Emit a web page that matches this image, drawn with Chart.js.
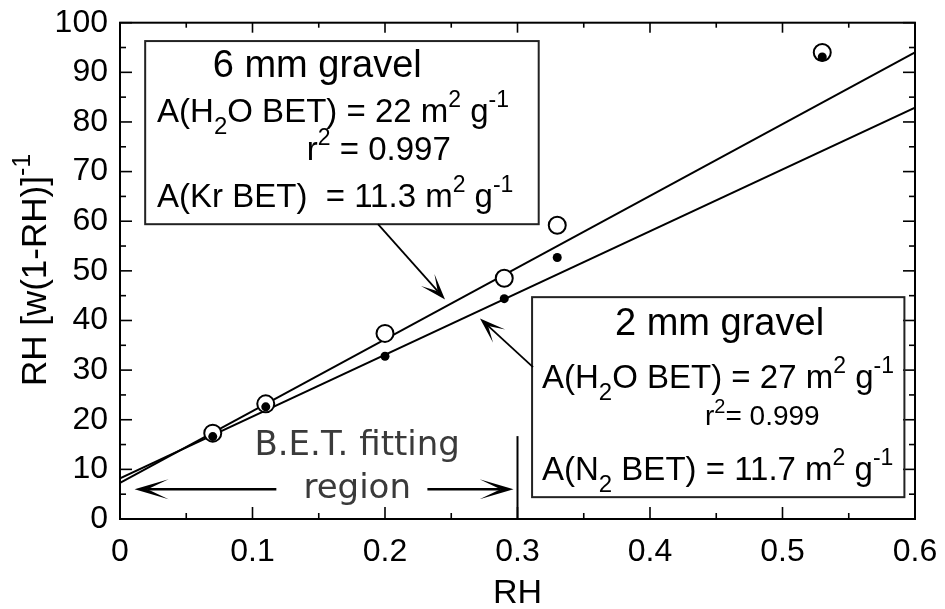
<!DOCTYPE html>
<html>
<head>
<meta charset="UTF-8">
<title>BET plot</title>
<script src="https://cdn.jsdelivr.net/npm/chart.js"></script>
<style>
  body { margin: 0; background: #fff; }
  canvas { display: block; }
</style>
</head>
<body>
<canvas id="bet" width="945" height="609"></canvas>
<script>
// relative humidity of each measurement
const rh = [0.07, 0.11, 0.20, 0.29, 0.33, 0.53];
// RH [w(1-RH)]^-1 : 6 mm gravel (open circles), 2 mm gravel (dots)
const gravel6 = [17.3, 23.2, 37.4, 48.5, 59.2, 94.0];
const gravel2 = [16.6, 22.6, 32.8, 44.4, 52.7, 93.1];
// BET fit lines, values at RH = 0 and RH = 0.6
const fitRH = [0, 0.6];
const fit6 = [7.3, 94.0];
const fit2 = [8.2, 82.9];
// axis ticks
const xTicks = [0, 0.1, 0.2, 0.3, 0.4, 0.5, 0.6];
const yTicks = [0, 10, 20, 30, 40, 50, 60, 70, 80, 90, 100];

const FONT = "'Liberation Sans', Arial, Helvetica, sans-serif";

// text inside the plot, positions in data units (x = RH, y = value), x = left edge
const notes = [
  { t: '6 mm gravel', x: 0.070, y: 89.0, size: 38 },
  { t: 'A(H_{2}O BET) = 22 m^{2} g^{-1}', x: 0.028, y: 80.0, size: 33 },
  { t: 'r^{2} = 0.997', x: 0.141, y: 72.3, size: 33 },
  { t: 'A(Kr BET)  = 11.3 m^{2} g^{-1}', x: 0.028, y: 62.8, size: 33 },
  { t: '2 mm gravel', x: 0.3736, y: 37.1, size: 38 },
  { t: 'A(H_{2}O BET) = 27 m^{2} g^{-1}', x: 0.3185, y: 26.4, size: 33 },
  { t: 'r^{2}= 0.999', x: 0.4415, y: 18.9, size: 28 },
  { t: 'A(N_{2} BET) = 11.7 m^{2} g^{-1}', x: 0.3185, y: 7.85, size: 33 }
];

// split "A(H_{2}O" into plain / sub / sup pieces
function parse(s) {
  const out = [];
  const re = /([_^])\{([^}]*)\}|([^_^]+)/g;
  let m;
  while ((m = re.exec(s))) {
    if (m[3]) out.push([m[3], 'n']);
    else out.push([m[2], m[1] === '_' ? 'sub' : 'sup']);
  }
  return out;
}

function rich(ctx, s, x, y, size, align, family) {
  const parts = parse(s);
  const fam = family || FONT;
  const fontFor = k => (k === 'n' ? size : Math.round(size * (k === 'sub' ? 0.74 : 0.7))) + 'px ' + fam;
  let w = 0;
  parts.forEach(([t, k]) => { ctx.font = fontFor(k); w += ctx.measureText(t).width; });
  let cx = align === 'center' ? x - w / 2 : x;
  ctx.textAlign = 'left';
  ctx.textBaseline = 'alphabetic';
  parts.forEach(([t, k]) => {
    ctx.font = fontFor(k);
    const dy = k === 'sup' ? -size * 0.45 : k === 'sub' ? size * 0.36 : 0;
    ctx.fillText(t, cx, y + dy);
    cx += ctx.measureText(t).width;
  });
}

function arrow(ctx, x0, y0, x1, y1, len, half, notch) {
  const a = Math.atan2(y1 - y0, x1 - x0);
  ctx.beginPath();
  ctx.moveTo(x0, y0);
  ctx.lineTo(x1 - Math.cos(a) * notch, y1 - Math.sin(a) * notch);
  ctx.stroke();
  ctx.save();
  ctx.translate(x1, y1);
  ctx.rotate(a);
  ctx.beginPath();
  ctx.moveTo(0, 0);
  ctx.lineTo(-len, -half);
  ctx.lineTo(-notch, 0);
  ctx.lineTo(-len, half);
  ctx.closePath();
  ctx.fill();
  ctx.restore();
}

const decor = {
  id: 'decor',
  afterDraw(chart) {
    const ctx = chart.ctx, a = chart.chartArea;
    const xs = chart.scales.x, ys = chart.scales.y;
    const px = v => xs.getPixelForValue(v), py = v => ys.getPixelForValue(v);
    ctx.save();
    ctx.strokeStyle = '#000';
    ctx.fillStyle = '#000';

    // frame
    ctx.lineWidth = 2;
    ctx.strokeRect(a.left, a.top, a.right - a.left, a.bottom - a.top);

    // inward ticks on four sides
    ctx.lineWidth = 1.6;
    const seg = (x0, y0, x1, y1) => { ctx.beginPath(); ctx.moveTo(x0, y0); ctx.lineTo(x1, y1); ctx.stroke(); };
    xTicks.forEach((v, i) => {
      const p = px(v);
      seg(p, a.bottom, p, a.bottom - 12); seg(p, a.top, p, a.top + 10);
      if (i < xTicks.length - 1) {
        const m = px((v + xTicks[i + 1]) / 2);
        seg(m, a.bottom, m, a.bottom - 6); seg(m, a.top, m, a.top + 5);
      }
    });
    yTicks.forEach((v, i) => {
      const p = py(v);
      seg(a.left, p, a.left + 12, p); seg(a.right, p, a.right - 12, p);
      if (i < yTicks.length - 1) {
        const m = py((v + yTicks[i + 1]) / 2);
        seg(a.left, m, a.left + 6, m); seg(a.right, m, a.right - 6, m);
      }
    });

    // legend boxes
    ctx.lineWidth = 2;
    ctx.strokeStyle = '#222';
    ctx.strokeRect(px(0.019), py(96.3), px(0.316) - px(0.019), py(59.4) - py(96.3));
    ctx.strokeRect(px(0.311), py(44.7), px(0.592) - px(0.311), py(4.4) - py(44.7));
    ctx.strokeStyle = '#000';

    notes.forEach(n => rich(ctx, n.t, px(n.x), py(n.y), n.size, 'left'));

    // pointer arrows to the fit lines
    ctx.lineWidth = 1.8;
    arrow(ctx, px(0.1947), py(59.4), px(0.2453), py(44.25), 26, 9, 11);
    arrow(ctx, px(0.3117), py(30.6), px(0.2717), py(40.4), 26, 9, 11);

    // B.E.T. fitting region marker
    ctx.lineWidth = 2;
    seg(px(0.3), py(0), px(0.3), py(16.7));
    ctx.lineWidth = 2.5;
    arrow(ctx, px(0.118), py(6.0), px(0.011), py(6.0), 34, 10, 13);
    arrow(ctx, px(0.232), py(6.0), px(0.297), py(6.0), 34, 10, 13);
    ctx.fillStyle = '#3a3a3a';
    const fam = "'DejaVu Sans', 'Open Sans', sans-serif";
    rich(ctx, 'B.E.T. fitting', px(0.179), py(12.9), 34, 'center', fam);
    rich(ctx, 'region', px(0.179), py(4.2), 34, 'center', fam);
    ctx.fillStyle = '#000';

    // axis titles
    rich(ctx, 'RH', (a.left + a.right) / 2, 603, 34, 'center');
    ctx.translate(46, 270);
    ctx.rotate(-Math.PI / 2);
    rich(ctx, 'RH [w(1-RH)]^{-1}', 0, 0, 35, 'center');
    ctx.restore();
  }
};

Chart.defaults.font.family = FONT;
Chart.defaults.color = '#000';

new Chart(document.getElementById('bet'), {
  type: 'scatter',
  data: {
    datasets: [
      { label: 'fit 6 mm', data: fitRH.map((v, i) => ({ x: v, y: fit6[i] })),
        showLine: true, borderColor: '#000', borderWidth: 2, pointRadius: 0, order: 3 },
      { label: 'fit 2 mm', data: fitRH.map((v, i) => ({ x: v, y: fit2[i] })),
        showLine: true, borderColor: '#000', borderWidth: 2, pointRadius: 0, order: 3 },
      { label: '6 mm gravel', data: rh.map((v, i) => ({ x: v, y: gravel6[i] })),
        pointRadius: 8.5, pointBorderWidth: 2, pointBackgroundColor: '#fff', pointBorderColor: '#000', order: 2 },
      { label: '2 mm gravel', data: rh.map((v, i) => ({ x: v, y: gravel2[i] })),
        pointRadius: 4.5, pointBorderWidth: 0, pointBackgroundColor: '#000', pointBorderColor: '#000', order: 1 }
    ]
  },
  options: {
    responsive: false,
    animation: false,
    layout: { padding: { top: 22.7, right: 30, left: 0, bottom: 0 } },
    plugins: { legend: { display: false }, tooltip: { enabled: false } },
    scales: {
      x: {
        type: 'linear', min: 0, max: 0.6,
        afterBuildTicks: s => { s.ticks = xTicks.map(v => ({ value: v })); },
        afterFit: s => { s.height = 90; s.paddingLeft = 0; s.paddingRight = 0; },
        grid: { display: false, drawTicks: false },
        border: { display: false },
        ticks: { font: { size: 32 }, padding: 14, autoSkip: false, maxRotation: 0, color: '#000' }
      },
      y: {
        type: 'linear', min: 0, max: 100,
        afterBuildTicks: s => { s.ticks = yTicks.map(v => ({ value: v })); },
        afterFit: s => { s.width = 120; s.paddingTop = 0; s.paddingBottom = 0; },
        grid: { display: false, drawTicks: false },
        border: { display: false },
        ticks: { font: { size: 32 }, padding: 12, autoSkip: false, color: '#000' }
      }
    }
  },
  plugins: [decor]
});
</script>
</body>
</html>
